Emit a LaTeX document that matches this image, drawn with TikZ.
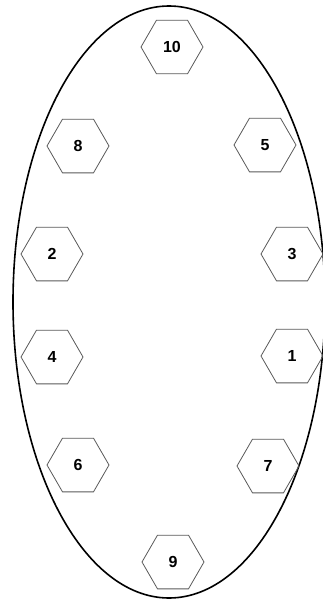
\documentclass[tikz,border=0pt]{standalone}
\usepackage{fontspec}
\setmainfont{Liberation Sans}
\usetikzlibrary{shapes.geometric}
\begin{document}
\begin{tikzpicture}[x=1pt,y=-1pt,
  hexa/.style={regular polygon, regular polygon sides=6, minimum size=62pt, inner sep=0pt,
    draw=black!65, line width=0.8pt, font=\bfseries\fontsize{16}{16}\selectfont},
  ring/.style={draw=black, line width=1.6pt}]
\useasboundingbox (0,0) rectangle (323,600);
\node[ring, ellipse, minimum width=312pt, minimum height=592pt, inner sep=0pt] (oval) at (169,302) {};
\node[hexa] (n10) at (172,47) {10};
\node[hexa] (n8) at (78,146) {8};
\node[hexa] (n5) at (265,145) {5};
\node[hexa] (n2) at (52,254) {2};
\node[hexa] (n3) at (292,254) {3};
\node[hexa] (n4) at (52,357) {4};
\node[hexa] (n1) at (292,356) {1};
\node[hexa] (n6) at (78,465) {6};
\node[hexa] (n7) at (268,466) {7};
\node[hexa] (n9) at (173,562) {9};
\end{tikzpicture}
\end{document}
